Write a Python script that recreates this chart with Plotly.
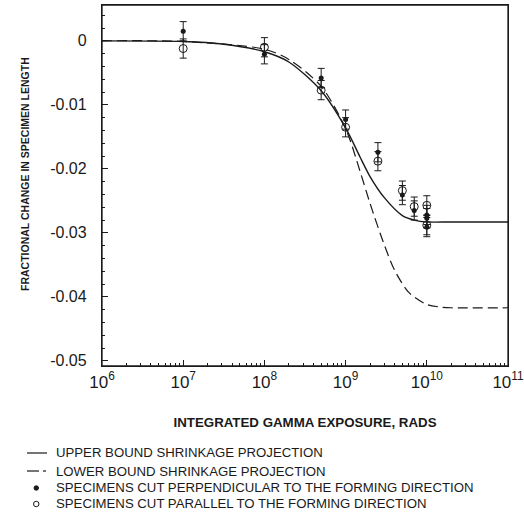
import plotly.graph_objects as go

# --- projection curves ---
upper_x = [1e6, 1e7, 3e7, 1e8, 2e8, 5e8, 1e9, 1.5e9, 2e9, 3e9, 5e9, 7e9, 1e10, 2e10, 1e11]
upper_y = [0.0, -0.0001, -0.0005, -0.0017, -0.0033, -0.0078, -0.0136, -0.0181, -0.0212,
           -0.0245, -0.0273, -0.0280, -0.0283, -0.0283, -0.0283]

lower_x = [1e6, 1e7, 1e8, 2e8, 5e8, 1e9, 1.5e9, 2e9, 3e9, 4e9, 6e9, 1e10, 1.5e10, 2e10, 1e11]
lower_y = [0.0, -0.0001, -0.0013, -0.0029, -0.0071, -0.0137, -0.0203, -0.0254, -0.0319,
           -0.0358, -0.0393, -0.0412, -0.0416, -0.0417, -0.0417]

# --- specimens ---
perp_x = [1e7, 1e8, 5e8, 1e9, 2.5e9, 5e9, 7e9, 1e10, 1e10, 1e10]
perp_y = [0.0015, -0.0021, -0.0058, -0.0123, -0.0174, -0.0241, -0.0265, -0.0272, -0.0277, -0.0291]
perp_err = [0.0015, 0.0015, 0.0015, 0.0015, 0.0015, 0.0015, 0.0015, 0.0015, 0.0015, 0.0015]

par_x = [1e7, 1e8, 5e8, 1e9, 2.5e9, 5e9, 7e9, 1e10, 1e10]
par_y = [-0.0012, -0.0010, -0.0077, -0.0135, -0.0188, -0.0234, -0.0259, -0.0257, -0.0288]
par_err = [0.0015, 0.0015, 0.0015, 0.0015, 0.0015, 0.0015, 0.0015, 0.0015, 0.0015]

# --- axes ---
x_tickvals = [1e6, 1e7, 1e8, 1e9, 1e10, 1e11]
x_ticktext = ["10<sup>6</sup>", "10<sup>7</sup>", "10<sup>8</sup>", "10<sup>9</sup>",
              "10<sup>10</sup>", "10<sup>11</sup>"]
x_minor = [m * 10 ** e for e in range(6, 11) for m in range(2, 10)]
y_tickvals = [0, -0.01, -0.02, -0.03, -0.04, -0.05]
y_ticktext = ["0", "-0.01", "-0.02", "-0.03", "-0.04", "-0.05"]
y_minor = [0.004, 0.002, -0.002, -0.004, -0.006, -0.008, -0.012, -0.014, -0.016, -0.018,
           -0.022, -0.024, -0.026, -0.028, -0.032, -0.034, -0.036, -0.038,
           -0.042, -0.044, -0.046, -0.048]

names = ["UPPER BOUND SHRINKAGE PROJECTION",
         "LOWER BOUND SHRINKAGE PROJECTION",
         "SPECIMENS CUT PERPENDICULAR TO THE FORMING DIRECTION",
         "SPECIMENS CUT PARALLEL TO THE FORMING DIRECTION"]
x_title = "INTEGRATED GAMMA EXPOSURE, RADS"
y_title = "FRACTIONAL CHANGE IN SPECIMEN LENGTH"

INK = "#1a1a1a"
FONT = "Liberation Sans, Arial, sans-serif"
W, H = 524, 519
L, R, T, B = 102, 16, 5, 153
PW, PH = W - L - R, H - T - B


def px2x(px):
    return (px - L) / PW


def px2y(py):
    return (H - B - py) / PH


fig = go.Figure()
fig.add_trace(go.Scatter(x=upper_x, y=upper_y, mode="lines", name=names[0],
                         line=dict(color=INK, width=1.4, shape="spline", smoothing=0.8)))
fig.add_trace(go.Scatter(x=lower_x, y=lower_y, mode="lines", name=names[1],
                         line=dict(color=INK, width=1.2, dash="10px,5px", shape="spline", smoothing=0.8)))
fig.add_trace(go.Scatter(x=perp_x, y=perp_y, mode="markers", name=names[2],
                         marker=dict(symbol="circle", size=5, color=INK),
                         error_y=dict(type="data", array=perp_err, color=INK, thickness=1, width=3.5)))
fig.add_trace(go.Scatter(x=par_x, y=par_y, mode="markers", name=names[3],
                         marker=dict(symbol="circle-open", size=8, color=INK, line=dict(width=1)),
                         error_y=dict(type="data", array=par_err, color=INK, thickness=1, width=3.5)))

fig.update_xaxes(type="log", range=[6, 11], tickmode="array", tickvals=x_tickvals,
                 ticktext=x_ticktext, ticks="inside", ticklen=6, tickwidth=1, tickcolor=INK,
                 showline=True, linecolor=INK, linewidth=1.3, mirror=True, showgrid=False,
                 zeroline=False, automargin=False, ticklabeloverflow="allow",
                 minor=dict(tickmode="array", tickvals=x_minor, ticks="inside", ticklen=3,
                            tickcolor=INK, showgrid=False),
                 tickfont=dict(family=FONT, size=17, color=INK),
                 title=dict(text="<b>" + x_title + "</b>", standoff=27,
                            font=dict(family=FONT, size=13.3, color=INK)))
fig.update_yaxes(range=[-0.0508, 0.0056], tickmode="array", tickvals=y_tickvals,
                 ticktext=y_ticktext, ticks="inside", ticklen=6, tickwidth=1, tickcolor=INK,
                 showline=True, linecolor=INK, linewidth=1.3, mirror=True, showgrid=False,
                 zeroline=False, automargin=False, ticklabelstandoff=11,
                 ticklabeloverflow="allow",
                 minor=dict(tickmode="array", tickvals=y_minor, ticks="inside", ticklen=3,
                            tickcolor=INK, showgrid=False),
                 tickfont=dict(family=FONT, size=16, color=INK))

# plot frame (box round the plotting area)
fig.add_shape(type="rect", xref="paper", yref="paper", x0=0, x1=1, y0=0, y1=1,
              line=dict(color=INK, width=1.3), fillcolor="rgba(0,0,0,0)", layer="above")

# y-axis title (placed as in the reference, slightly above the axis centre)
fig.add_annotation(text="<b>" + y_title + "</b>", xref="paper", yref="paper",
                   x=px2x(25), y=px2y(174), textangle=-90, showarrow=False,
                   xanchor="center", yanchor="middle",
                   font=dict(family=FONT, size=10.5, color=INK))

# legend below the plot, laid out as in the reference
rows = [453, 471, 488, 504]
for name, ry in zip(names, rows):
    fig.add_annotation(text=name, xref="paper", yref="paper", x=px2x(54), y=px2y(ry),
                       showarrow=False, xanchor="left", yanchor="middle",
                       font=dict(family=FONT, size=13.2, color=INK))
fig.add_shape(type="line", xref="paper", yref="paper", x0=px2x(27), x1=px2x(47),
              y0=px2y(rows[0]), y1=px2y(rows[0]), line=dict(color=INK, width=1.2))
fig.add_shape(type="line", xref="paper", yref="paper", x0=px2x(27), x1=px2x(39),
              y0=px2y(rows[1]), y1=px2y(rows[1]), line=dict(color=INK, width=1.2))
fig.add_shape(type="line", xref="paper", yref="paper", x0=px2x(43), x1=px2x(46),
              y0=px2y(rows[1]), y1=px2y(rows[1]), line=dict(color=INK, width=1.2))
fig.add_shape(type="circle", xref="paper", yref="paper", x0=px2x(34), x1=px2x(38.5),
              y0=px2y(rows[2] - 2.2), y1=px2y(rows[2] + 2.2), fillcolor=INK,
              line=dict(color=INK, width=1))
fig.add_shape(type="circle", xref="paper", yref="paper", x0=px2x(33.5), x1=px2x(39),
              y0=px2y(rows[3] - 2.7), y1=px2y(rows[3] + 2.7), fillcolor="white",
              line=dict(color=INK, width=1))

fig.update_layout(
    width=W, height=H,
    margin=dict(l=L, r=R, t=T, b=B),
    paper_bgcolor="white", plot_bgcolor="white",
    showlegend=False,
)

fig.write_html("out.html", config={"displayModeBar": False},
               post_script="document.body.style.margin='0';document.body.style.overflow='hidden';")
